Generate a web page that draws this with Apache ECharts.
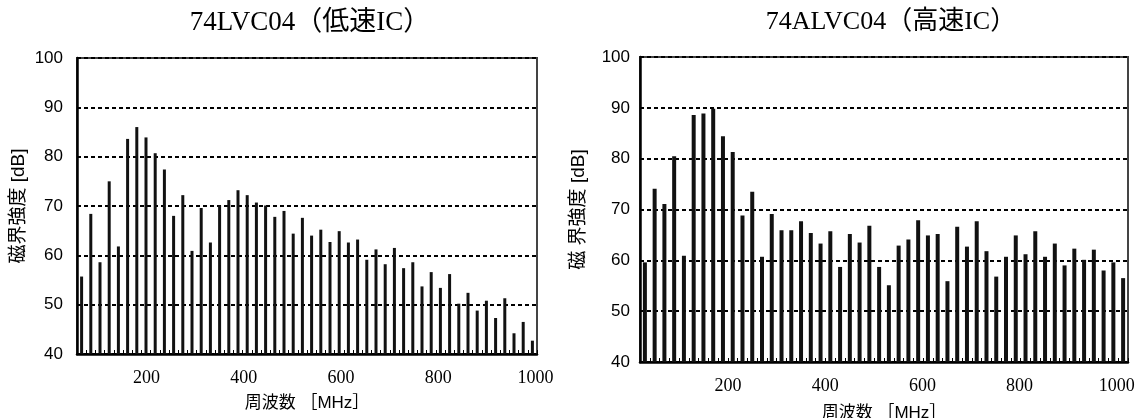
<!DOCTYPE html>
<html>
<head>
<meta charset="utf-8">
<script src="https://cdn.jsdelivr.net/npm/echarts@6/dist/echarts.min.js"></script>
<style>
html,body{margin:0;padding:0;background:#fff;}
#chart{width:1139px;height:418px;}
</style>
</head>
<body>
<div id="chart"></div>
<script>
// Frequencies of the measured peaks [MHz]
const freqs = [20,40,60,80,100,120,140,160,180,200,
  220,240,260,280,300,320,340,360,380,400,
  420,440,460,480,500,520,540,560,580,600,
  620,640,660,680,700,720,740,760,780,800,
  820,840,860,880,900,920,940,960,980,1000];

// 74LVC04 (low speed IC) field strength [dB]
const lvcValues = [55.7,68.4,58.6,75.0,61.8,83.6,86.0,83.9,80.7,77.4,
  68.0,72.2,60.9,69.6,62.6,70.1,71.2,73.2,72.2,70.7,
  70.1,67.8,69.0,64.4,67.6,64.0,65.2,62.7,64.9,62.6,
  63.2,59.1,61.2,58.2,61.5,57.4,58.6,53.7,56.6,53.4,
  56.2,50.2,52.4,48.8,50.8,47.3,51.3,44.2,46.5,42.7];

// 74ALVC04 (high speed IC) field strength [dB]
const alvcValues = [59.6,74.1,71.1,80.5,60.9,88.6,88.9,89.8,84.4,81.3,
  68.8,73.5,60.7,69.1,65.9,65.9,67.7,65.4,63.3,65.7,
  58.7,65.2,63.5,66.8,58.7,55.1,62.9,64.1,67.9,64.9,
  65.2,55.9,66.6,62.7,67.7,61.8,56.8,60.7,64.9,61.2,
  65.7,60.7,63.3,59.0,62.3,60.1,62.1,58.0,59.6,56.5];

const freqTicks = [200,400,600,800,1000];
const titles = ['74LVC04（低速IC）','74ALVC04（高速IC）'];
const yName = ['磁界強度 [dB]','磁 界強度 [dB]'];
const xName = '周波数 ［MHz］';

const serif = 'Liberation Serif, "Times New Roman", "Noto Sans CJK JP", serif';
const sans = 'Liberation Sans, Arial, "Noto Sans CJK JP", sans-serif';

function pairs(vals){ return freqs.map((f,i)=>[f, vals[i]]); }

const grids = [
  {left:77, top:58, width:460, height:296},
  {left:640, top:57, width:488, height:305}
];
const labelRange = [[57,1003],[19,1023]];
const yMargin = [14,10];
const yGap = [49,52];
const xGap = [41,43];
const barW = [3,4];

const option = {
  backgroundColor:'#fff',
  animation:false,
  title: [
    {text:titles[0], left:310, top:9, textAlign:'center', padding:0,
     textStyle:{fontFamily:serif, fontSize:27, fontWeight:'normal', color:'#000'}},
    {text:titles[1], left:891, top:9, textAlign:'center', padding:0,
     textStyle:{fontFamily:serif, fontSize:26, fontWeight:'normal', color:'#000'}}
  ],
  grid: grids.map(g=>Object.assign({show:true, borderColor:'#444', borderWidth:2,
    containLabel:false, outerBoundsMode:'none'}, g)),
  xAxis: [],
  yAxis: [],
  series: []
};

[0,1].forEach(k=>{
  // axis carrying the bars
  option.xAxis.push({
    type:'value', gridIndex:k, min:10, max:1010, interval:20, position:'bottom',
    axisLine:{show:true, onZero:false, lineStyle:{color:'#000', width:2.5}},
    axisTick:{show:true, inside:true, length:4, lineStyle:{color:'#000', width:1}},
    axisLabel:{show:false},
    splitLine:{show:false}
  });
  // axis carrying the frequency labels
  option.xAxis.push({
    type:'value', gridIndex:k, min:labelRange[k][0], max:labelRange[k][1], position:'bottom',
    axisLine:{show:false}, axisTick:{show:false}, splitLine:{show:false},
    axisLabel:{show:true, customValues:freqTicks, margin:15, color:'#000',
      fontFamily:serif, fontSize:18, hideOverlap:false,
      formatter: v => String(Math.round(v))},
    name:xName, nameLocation:'middle', nameGap:xGap[k],
    nameTextStyle:{fontFamily:sans, fontSize:17, color:'#000'}
  });
  option.yAxis.push({
    type:'value', gridIndex:k, min:40, max:100, interval:10,
    axisLine:{show:true, lineStyle:{color:'#000', width:2.5}},
    axisTick:{show:false},
    axisLabel:{color:'#000', fontFamily:sans, fontSize:17, margin:yMargin[k]},
    splitLine:{show:true, lineStyle:{color:'#000', width:2, type:[4,3]}},
    name:yName[k], nameLocation:'middle', nameGap:yGap[k], nameRotate:90,
    nameTextStyle:{fontFamily:sans, fontSize:19, color:'#000'}
  });
  option.series.push({
    type:'bar', xAxisIndex:k*2, yAxisIndex:k, barWidth:barW[k],
    data: pairs(k===0 ? lvcValues : alvcValues),
    itemStyle:{color:'#111'},
    silent:true
  });
});

const chart = echarts.init(document.getElementById('chart'), null, {renderer:'canvas'});
chart.setOption(option);
</script>
</body>
</html>
